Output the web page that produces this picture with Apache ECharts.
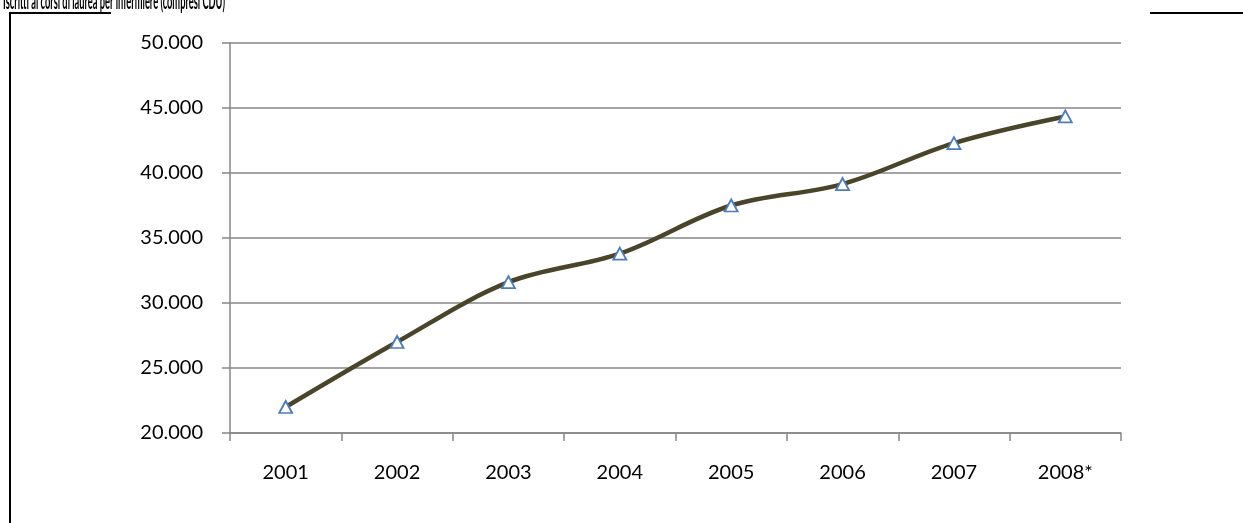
<!DOCTYPE html>
<html>
<head>
<meta charset="utf-8">
<script src="https://cdn.jsdelivr.net/npm/echarts@6/dist/echarts.min.js"></script>
<style>
html,body{margin:0;padding:0;background:#fff;}
#chart{width:1243px;height:523px;}
</style>
</head>
<body>
<div id="chart"></div>
<script>
const titleText = 'Iscritti ai corsi di laurea per infermiere (compresi CDU)';
const categories = ['2001','2002','2003','2004','2005','2006','2007','2008*'];
const iscritti = [22000, 27000, 31600, 33800, 37500, 39150, 42300, 44350];
const yMin = 20000, yMax = 50000, yStep = 5000;

const FONT = 'Lato, "Open Sans", sans-serif';
const titleFont = 'bold 22px ' + FONT;
const ctx = document.createElement('canvas').getContext('2d');
ctx.font = titleFont;
const naturalW = ctx.measureText(titleText).width;
const titleScale = 222 / naturalW;

function fmt(v){ return String(v).replace(/\B(?=(\d{3})+(?!\d))/g, '.'); }

const chart = echarts.init(document.getElementById('chart'), null, {renderer:'canvas'});
chart.setOption({
  animation:false,
  backgroundColor:'#fff',
  grid:{left:230, right:122, top:43, bottom:90, containLabel:false},
  xAxis:{
    type:'category', data:categories, boundaryGap:true,
    axisLine:{lineStyle:{color:'#868686', width:1.5}},
    axisTick:{show:true, alignWithLabel:false, length:8, lineStyle:{color:'#868686', width:1.5}},
    axisLabel:{color:'#000', fontFamily:FONT, fontSize:20, margin:30}
  },
  yAxis:{
    type:'value', min:yMin, max:yMax, interval:yStep,
    axisLine:{show:true, lineStyle:{color:'#868686', width:1.5}},
    axisTick:{show:true, length:8, lineStyle:{color:'#868686', width:1.5}},
    splitLine:{show:true, lineStyle:{color:'#868686', width:1.5}},
    axisLabel:{color:'#000', fontFamily:FONT, fontSize:20, margin:27, formatter:fmt}
  },
  series:[{
    type:'line', data:iscritti, smooth:0.35,
    lineStyle:{color:'#4A452A', width:4.5},
    symbol:'triangle', symbolSize:[13,12],
    itemStyle:{color:'#fff', borderColor:'#4A7EBB', borderWidth:1.8},
    z:3
  }],
  graphic:[
    {type:'text', x:3, y:-9, scaleX:titleScale, style:{text:titleText, font:titleFont, fill:'#000'}},
    {type:'line', shape:{x1:10, y1:13, x2:111, y2:13}, style:{stroke:'#000', lineWidth:2}},
    {type:'line', shape:{x1:1150, y1:13, x2:1243, y2:13}, style:{stroke:'#000', lineWidth:2}},
    {type:'line', shape:{x1:10, y1:12, x2:10, y2:523}, style:{stroke:'#000', lineWidth:2}}
  ]
});
</script>
</body>
</html>
